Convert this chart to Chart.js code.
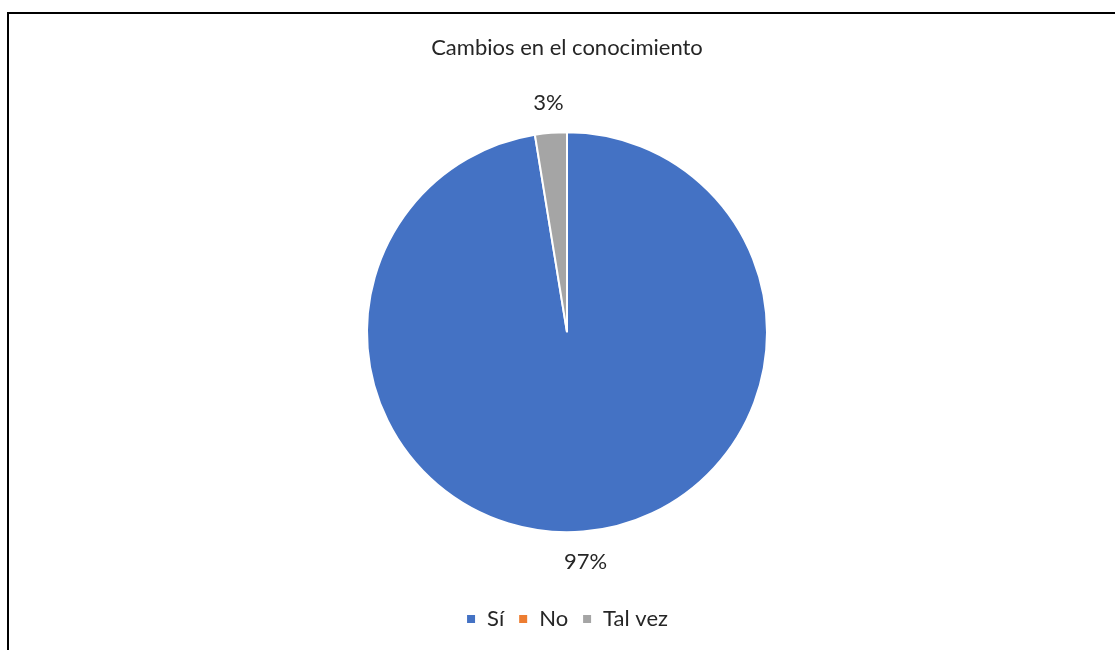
<!DOCTYPE html>
<html>
<head>
<meta charset="utf-8">
<script src="https://cdn.jsdelivr.net/npm/chart.js@4"></script>
<style>
  html, body { margin: 0; padding: 0; background: #fff; }
  #wrap { position: relative; width: 1115px; height: 650px; overflow: hidden; }
  #frame { position: absolute; left: 7px; top: 12px; right: -10px; bottom: -10px;
           border-left: 2px solid #000; border-top: 2px solid #000; }
  canvas { position: absolute; left: 0; top: 0; }
</style>
</head>
<body>
<div id="wrap">
  <div id="frame"></div>
  <canvas id="pieChart" width="1115" height="650"></canvas>
</div>
<script>
// data
const categories = ['Sí', 'No', 'Tal vez'];
const counts = [38, 0, 1];
const sliceColors = ['#4472C4', '#ED7D31', '#A5A5A5'];

const fontFamily = 'Lato, "Open Sans", sans-serif';
const textColor = '#262626';

// draws the percentage labels just outside each slice
const outsideLabels = {
    id: 'outsideLabels',
    afterDatasetsDraw(chart) {
        const ctx = chart.ctx;
        const meta = chart.getDatasetMeta(0);
        const total = counts.reduce((a, b) => a + b, 0);
        ctx.save();
        ctx.font = '22px ' + fontFamily;
        ctx.fillStyle = textColor;
        ctx.textAlign = 'center';
        ctx.textBaseline = 'middle';
        meta.data.forEach((arc, i) => {
            if (!counts[i]) return;
            const mid = (arc.startAngle + arc.endAngle) / 2;
            const r = arc.outerRadius + 30;
            const x = arc.x + Math.cos(mid) * r;
            const y = arc.y + Math.sin(mid) * r;
            ctx.fillText(Math.round(counts[i] / total * 100) + '%', x, y);
        });
        ctx.restore();
    }
};

const ctx = document.getElementById('pieChart').getContext('2d');
const pieChart = new Chart(ctx, {
    type: 'pie',
    data: {
        labels: categories,
        datasets: [{
            data: counts,
            backgroundColor: sliceColors,
            borderColor: '#ffffff',
            borderWidth: 2,
            radius: 200
        }]
    },
    options: {
        responsive: false,
        animation: false,
        layout: { padding: { left: 19, bottom: 10 } },
        plugins: {
            title: {
                display: true,
                text: 'Cambios en el conocimiento',
                color: textColor,
                font: { family: fontFamily, size: 22, weight: 'normal' },
                padding: { top: 35, bottom: 9 }
            },
            legend: {
                position: 'bottom',
                labels: {
                    color: textColor,
                    font: { family: fontFamily, size: 22 },
                    boxWidth: 10,
                    boxHeight: 10,
                    padding: 14
                }
            },
            tooltip: { enabled: false }
        }
    },
    plugins: [outsideLabels]
});
</script>
</body>
</html>
